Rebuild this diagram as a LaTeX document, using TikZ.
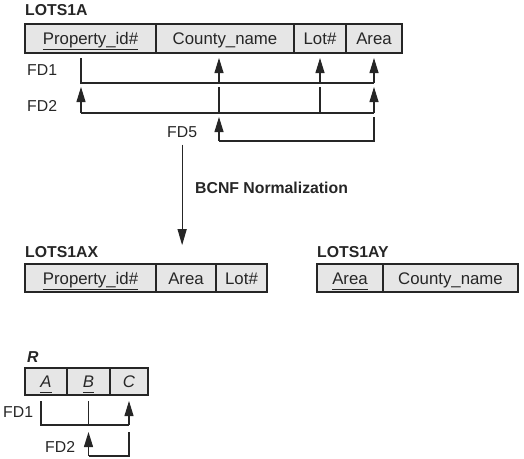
\documentclass[tikz,border=0pt]{standalone}
\usepackage{fontspec}
\setmainfont{Liberation Sans}
\usetikzlibrary{positioning,arrows.meta}
\definecolor{cellfill}{HTML}{E6E6E6}
\definecolor{ink}{HTML}{262626}
\newcommand{\keyattr}[1]{\underline{\vphantom{p\_}#1}}
\newcommand{\sizeCell}{\fontsize{16.8}{20}\selectfont}
\newcommand{\sizeLabel}{\fontsize{15.8}{19}\selectfont}

\tikzset{
	cell/.style={draw=ink, fill=cellfill, line width=1.1pt, inner sep=0pt, outer sep=0pt,
		minimum height=29pt, text height=12pt, text depth=0pt, anchor=west, font=\sizeCell, text=ink},
	relname/.style={anchor=west, inner sep=0pt, font=\sizeLabel\bfseries, text=ink},
	fdname/.style={anchor=west, inner sep=0pt, font=\sizeLabel, text=ink},
	fdline/.style={draw=ink, line width=1.1pt},
	fdhead/.style={fdline, -{Triangle[length=15pt,width=9pt]}},
	bigarrow/.style={fdline, -{Triangle[length=16pt,width=9pt]}},
}

\begin{document}
\begin{tikzpicture}[x=1pt, y=-1pt]
	\useasboundingbox (0,0) rectangle (524,458);
	% LOTS1A
	\node[relname] (lotsA) at (25,10) {LOTS1A};
	\node[cell, minimum width=131pt] (pid) at (25,38.5) {\keyattr{Property\_id\#}};
	\node[cell, minimum width=138pt, right=0pt of pid] (cname) {County\_name};
	\node[cell, minimum width=52pt, right=0pt of cname] (lot) {Lot\#};
	\node[cell, minimum width=56pt, right=0pt of lot] (area) {Area};
	\coordinate (pidC) at ([xshift=-9.5pt]pid.center);
	\coordinate (cnameC) at ([xshift=-6pt]cname.center);
	\coordinate (tip1) at (0,58);
	\coordinate (bar1) at (0,83);
	\coordinate (tip2) at (0,87);
	\coordinate (bar2) at (0,113);
	\coordinate (tip3) at (0,117);
	\coordinate (bar3) at (0,141);
	\node[fdname] (fdA1) at (27,70) {FD1};
	\node[fdname] (fdA2) at (27,106) {FD2};
	\node[fdname] (fdA5) at (167,132) {FD5};
	\draw[fdline] (pidC |- tip1) |- (area |- bar1);
	\foreach \c in {cnameC,lot,area}{
		\draw[fdhead] (\c |- bar1) -- (\c |- tip1);
		}
	\draw[fdline] (pidC |- bar2) -- (area |- bar2);
	\foreach \c in {cnameC,lot}{
		\draw[fdline] (\c |- tip2) -- (\c |- bar2);
		}
	\foreach \c in {pidC,area}{
		\draw[fdhead] (\c |- bar2) -- (\c |- tip2);
		}
	\draw[fdline] (area |- tip3) |- (cnameC |- bar3);
	\draw[fdhead] (cnameC |- bar3) -- (cnameC |- tip3);
	% decomposition
	\node[relname] (lotsAX) at (25,252) {LOTS1AX};
	\node[relname] (lotsAY) at (317,252) {LOTS1AY};
	\draw[bigarrow, shorten <=7pt, shorten >=1pt] (fdA5.south) -- (fdA5 |- lotsAX.north);
	\node[relname] (bcnf) at (195,188) {BCNF Normalization};
	\node[cell, minimum width=131pt, minimum height=28pt] (xpid) at (25,278) {\keyattr{Property\_id\#}};
	\node[cell, minimum width=60pt, minimum height=28pt, right=0pt of xpid] (xarea) {Area};
	\node[cell, minimum width=51pt, minimum height=28pt, right=0pt of xarea] (xlot) {Lot\#};
	\node[cell, minimum width=66pt, minimum height=28pt] (yarea) at (317,278) {\keyattr{Area}};
	\node[cell, minimum width=135pt, minimum height=28pt, right=0pt of yarea] (ycname) {County\_name};
	% R
	\node[relname, font=\sizeLabel\bfseries\itshape] (rname) at (27,357.5) {R};
	\node[cell, minimum width=42pt, minimum height=27pt, font=\sizeCell\itshape] (rA) at (25,381.5) {\keyattr{A}};
	\node[cell, minimum width=43pt, minimum height=27pt, font=\sizeCell\itshape, right=0pt of rA] (rB) {\keyattr{B}};
	\node[cell, minimum width=38pt, minimum height=27pt, font=\sizeCell\itshape, right=0pt of rB] (rC) {C};
	\coordinate (rAC) at ([xshift=-5pt]rA.center);
	\coordinate (rtip1) at (0,401);
	\coordinate (rbar1) at (0,425);
	\coordinate (rtip2) at (0,432);
	\coordinate (rbar2) at (0,456);
	\node[fdname] (fdR1) at (3,412) {FD1};
	\node[fdname] (fdR2) at (45,447) {FD2};
	\draw[fdline] (rAC |- rtip1) |- (rC |- rbar1);
	\draw[fdline] (rB |- rtip1) -- (rB |- rbar1);
	\draw[fdhead] (rC |- rbar1) -- (rC |- rtip1);
	\draw[fdline] (rC |- rtip2) |- (rB |- rbar2);
	\draw[fdhead] (rB |- rbar2) -- (rB |- rtip2);
\end{tikzpicture}
\end{document}
